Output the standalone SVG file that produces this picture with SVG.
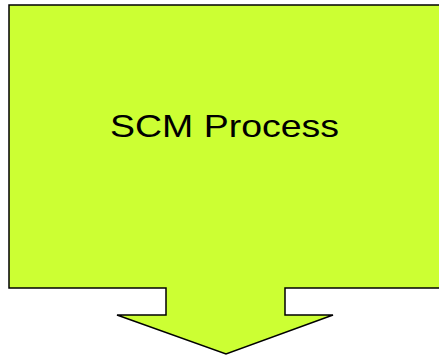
<svg xmlns="http://www.w3.org/2000/svg" width="439" height="358" viewBox="0 0 439 358">
<style>
.shape{fill:#CCFF33;stroke:#000;stroke-width:1.5;stroke-linejoin:miter}
.lbl{font-family:"Liberation Sans",Arial,sans-serif;font-size:32px;fill:#000}
</style>
<rect width="439" height="358" fill="#fff"/>
<g id="scm-process">
<path class="shape" d="M9,5 H445 V288 H285 V315 H333 L226,354 L117,315 H166 V288 H9 Z"/>
<text class="lbl" x="110" y="137" textLength="229" lengthAdjust="spacingAndGlyphs">SCM Process</text>
</g>
</svg>
